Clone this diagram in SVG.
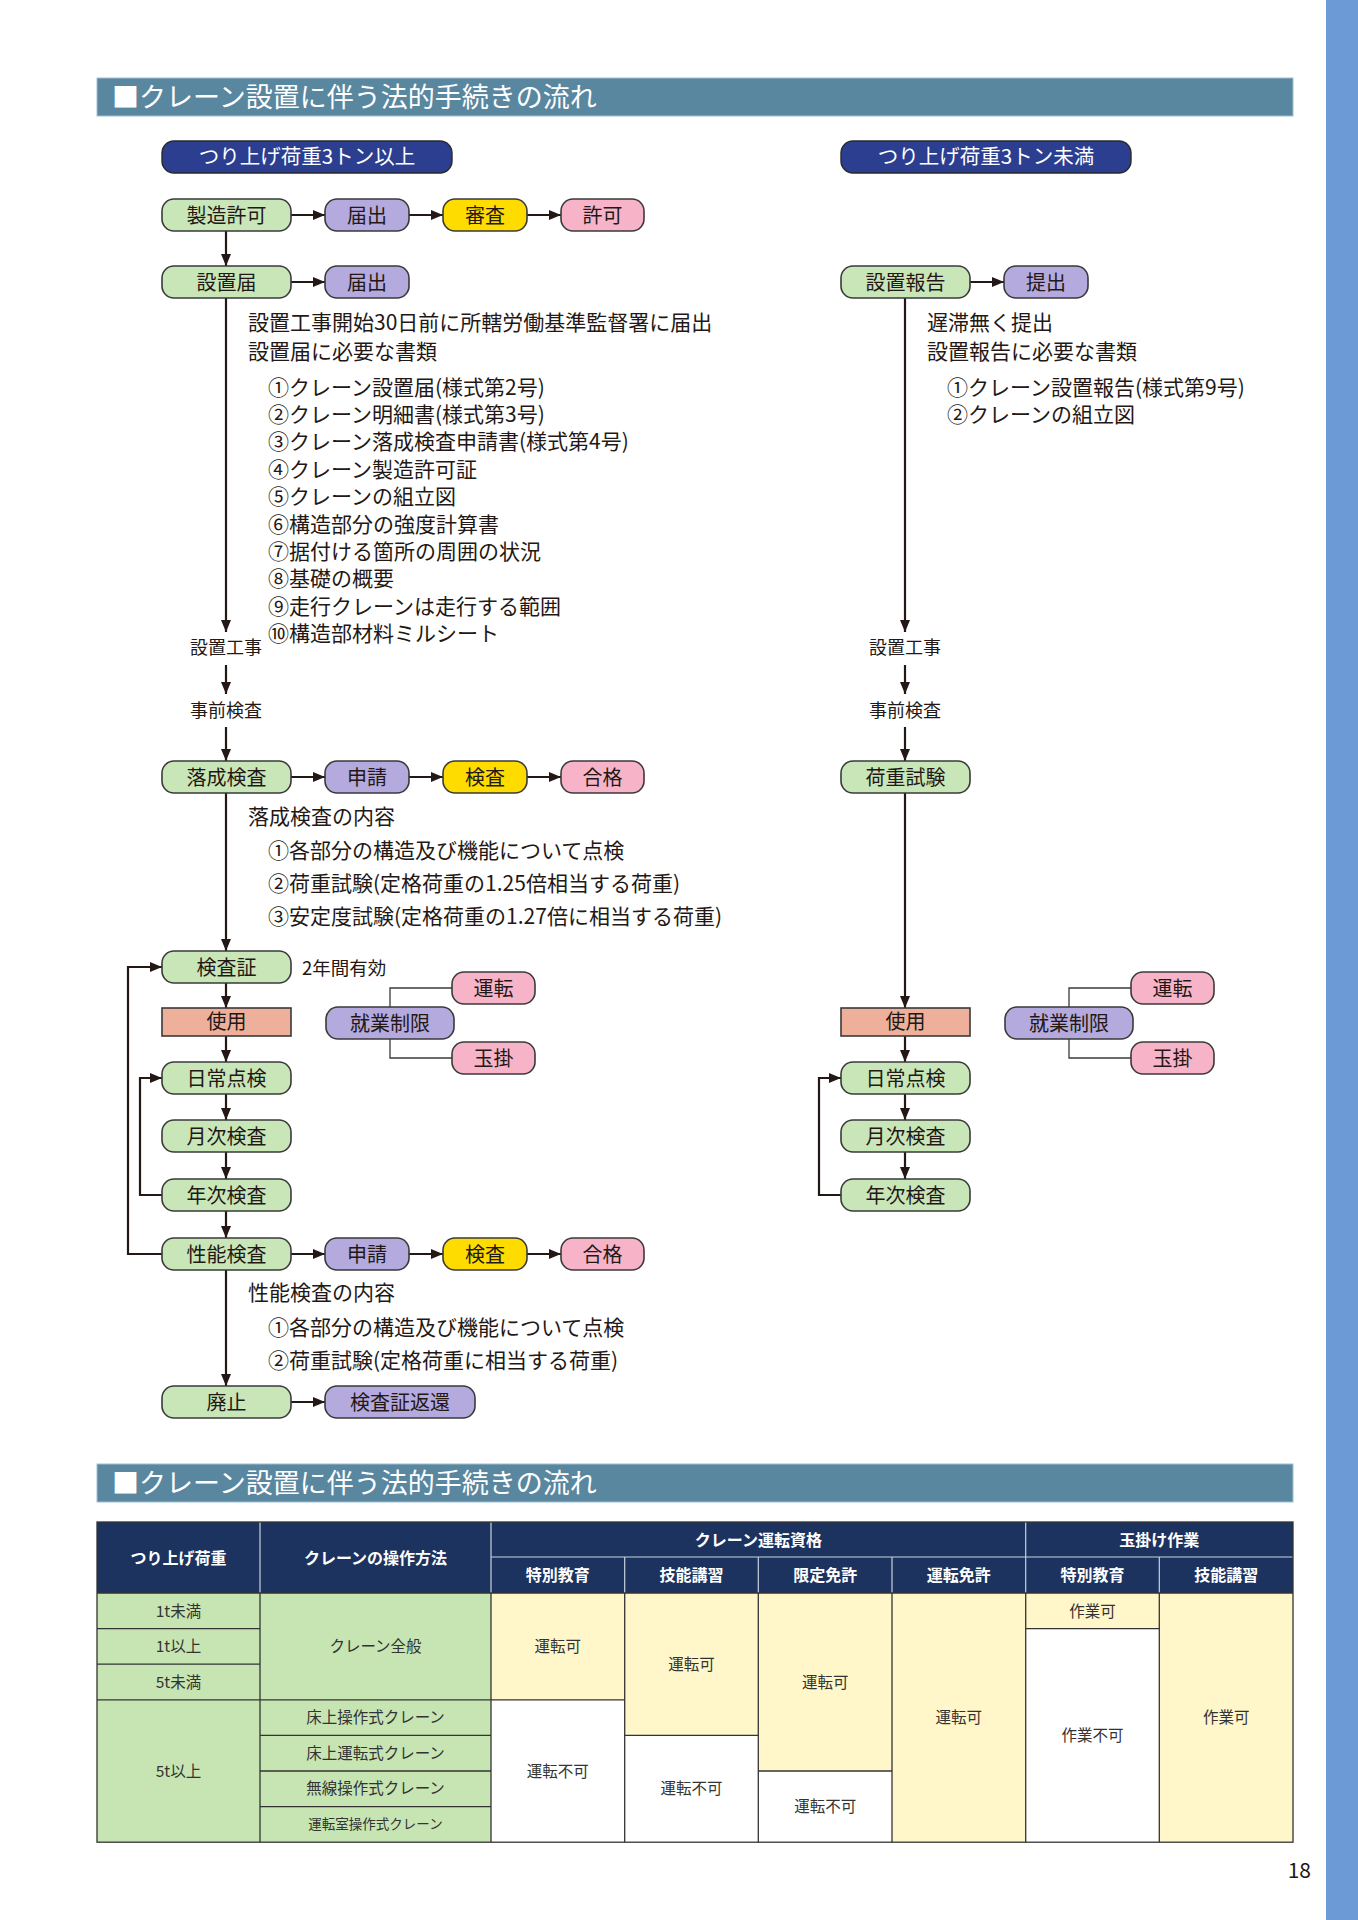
<svg xmlns="http://www.w3.org/2000/svg" width="1358" height="1920" viewBox="0 0 1358 1920">
<style>
text{font-family:'Noto Sans CJK JP','Noto Sans',sans-serif;fill:#231815}
.nt{font-size:20px;text-anchor:middle}
.bt{font-size:21px}
.lb{font-size:18px;text-anchor:middle}
.g{fill:#c9e6b9;stroke:#3a3a3a;stroke-width:1.6}
.p{fill:#b4aadd;stroke:#3a3a3a;stroke-width:1.6}
.y{fill:#ffdc00;stroke:#3a3a3a;stroke-width:1.6}
.k{fill:#f7b4c8;stroke:#3a3a3a;stroke-width:1.6}
.s{fill:#eeb09b;stroke:#3a3a3a;stroke-width:1.6}
.hd{fill:#2b3e90;stroke:#2a2a2a;stroke-width:1.4}
.ht{font-size:20.5px;text-anchor:middle;fill:#ffffff}
.ttl{font-size:27px;fill:#ffffff}
.c{fill:none;stroke:#231815;stroke-width:2.2}
.a{marker-end:url(#ar)}
.thin{fill:none;stroke:#3a3a3a;stroke-width:1.3}
.th{fill:#1c3360}
.tt{font-size:16px;font-weight:bold;fill:#ffffff;text-anchor:middle}
.td{font-size:15.5px;fill:#333333;text-anchor:middle}
.cg{fill:#c6e5b3}
.cy{fill:#fff6c9}
.cw{fill:#ffffff}
.tl{stroke:#333333;stroke-width:1.3;fill:none}
.hl{stroke:#c9d2de;stroke-width:1.2;fill:none}
</style>
<defs>
<marker id="ar" markerUnits="userSpaceOnUse" markerWidth="13" markerHeight="11" refX="12" refY="5" orient="auto">
<path d="M0,0 L12,5 L0,10 Z" fill="#231815"/>
</marker>
</defs>
<rect x="0" y="0" width="1358" height="1920" fill="#ffffff"/>
<rect id="sidebar" x="1326" y="0" width="32" height="1920" fill="#6b9ad6"/>

<g id="title1">
<rect x="97" y="78" width="1196" height="38" fill="#5a87a0" stroke="#9ec0d3" stroke-width="1"/>
<text class="ttl" x="112" y="107">■クレーン設置に伴う法的手続きの流れ</text>
</g>

<g id="connectors">
<line class="c a" x1="291" y1="215" x2="325" y2="215"/>
<line class="c a" x1="409" y1="215" x2="443" y2="215"/>
<line class="c a" x1="527" y1="215" x2="561" y2="215"/>
<line class="c a" x1="226" y1="231" x2="226" y2="266"/>
<line class="c a" x1="291" y1="282" x2="325" y2="282"/>
<line class="c a" x1="226" y1="298" x2="226" y2="632"/>
<line class="c a" x1="226" y1="665" x2="226" y2="694"/>
<line class="c a" x1="226" y1="727" x2="226" y2="761"/>
<line class="c a" x1="291" y1="777" x2="325" y2="777"/>
<line class="c a" x1="409" y1="777" x2="443" y2="777"/>
<line class="c a" x1="527" y1="777" x2="561" y2="777"/>
<line class="c a" x1="226" y1="793" x2="226" y2="951"/>
<line class="c a" x1="226" y1="983" x2="226" y2="1008"/>
<line class="c a" x1="226" y1="1036" x2="226" y2="1062"/>
<line class="c a" x1="226" y1="1094" x2="226" y2="1120"/>
<line class="c a" x1="226" y1="1152" x2="226" y2="1179"/>
<line class="c a" x1="226" y1="1211" x2="226" y2="1238"/>
<line class="c a" x1="291" y1="1254" x2="325" y2="1254"/>
<line class="c a" x1="409" y1="1254" x2="443" y2="1254"/>
<line class="c a" x1="527" y1="1254" x2="561" y2="1254"/>
<line class="c a" x1="226" y1="1270" x2="226" y2="1386"/>
<line class="c a" x1="291" y1="1402" x2="325" y2="1402"/>
<path class="c a" d="M162,1195 H140 V1078 H162"/>
<path class="c a" d="M162,1254 H128 V967 H162"/>
<path class="thin" d="M452,988 H390 V1007"/>
<path class="thin" d="M390,1039 V1058 H452"/>
<line class="c a" x1="970" y1="282" x2="1004" y2="282"/>
<line class="c a" x1="905" y1="298" x2="905" y2="632"/>
<line class="c a" x1="905" y1="665" x2="905" y2="694"/>
<line class="c a" x1="905" y1="727" x2="905" y2="761"/>
<line class="c a" x1="905" y1="793" x2="905" y2="1008"/>
<line class="c a" x1="905" y1="1036" x2="905" y2="1062"/>
<line class="c a" x1="905" y1="1094" x2="905" y2="1120"/>
<line class="c a" x1="905" y1="1152" x2="905" y2="1179"/>
<path class="c a" d="M841,1195 H819 V1078 H841"/>
<path class="thin" d="M1131,988 H1069 V1007"/>
<path class="thin" d="M1069,1039 V1058 H1131"/>
</g>

<g id="hdr-left"><rect class="hd" x="162" y="141" width="290" height="32" rx="12"/><text class="ht" x="307" y="164">つり上げ荷重3トン以上</text></g>
<g id="hdr-right"><rect class="hd" x="841" y="141" width="290" height="32" rx="12"/><text class="ht" x="986" y="164">つり上げ荷重3トン未満</text></g>

<g id="n-seizokyoka"><rect class="g" x="162" y="199" width="129" height="32" rx="12"/><text class="nt" x="226.5" y="222.5">製造許可</text></g>
<g id="n-todokede1"><rect class="p" x="325" y="199" width="84" height="32" rx="12"/><text class="nt" x="367" y="222.5">届出</text></g>
<g id="n-shinsa"><rect class="y" x="443" y="199" width="84" height="32" rx="12"/><text class="nt" x="485" y="222.5">審査</text></g>
<g id="n-kyoka"><rect class="k" x="561" y="199" width="83" height="32" rx="12"/><text class="nt" x="602.5" y="222.5">許可</text></g>

<g id="n-setchitodoke"><rect class="g" x="162" y="266" width="129" height="32" rx="12"/><text class="nt" x="226.5" y="289.5">設置届</text></g>
<g id="n-todokede2"><rect class="p" x="325" y="266" width="84" height="32" rx="12"/><text class="nt" x="367" y="289.5">届出</text></g>

<g id="txt-setchitodoke">
<text class="bt" x="248" y="330">設置工事開始30日前に所轄労働基準監督署に届出</text>
<text class="bt" x="248" y="359">設置届に必要な書類</text>
<text class="bt" x="268" y="395">①クレーン設置届(様式第2号)</text>
<text class="bt" x="268" y="422">②クレーン明細書(様式第3号)</text>
<text class="bt" x="268" y="449">③クレーン落成検査申請書(様式第4号)</text>
<text class="bt" x="268" y="477">④クレーン製造許可証</text>
<text class="bt" x="268" y="504">⑤クレーンの組立図</text>
<text class="bt" x="268" y="532">⑥構造部分の強度計算書</text>
<text class="bt" x="268" y="559">⑦据付ける箇所の周囲の状況</text>
<text class="bt" x="268" y="586">⑧基礎の概要</text>
<text class="bt" x="268" y="614">⑨走行クレーンは走行する範囲</text>
<text class="bt" x="268" y="641">⑩構造部材料ミルシート</text>
</g>

<g id="lbl-koji-l"><text class="lb" x="226" y="654">設置工事</text></g>
<g id="lbl-jizen-l"><text class="lb" x="226" y="717">事前検査</text></g>

<g id="n-rakusei"><rect class="g" x="162" y="761" width="129" height="32" rx="12"/><text class="nt" x="226.5" y="784.5">落成検査</text></g>
<g id="n-shinsei1"><rect class="p" x="325" y="761" width="84" height="32" rx="12"/><text class="nt" x="367" y="784.5">申請</text></g>
<g id="n-kensa1"><rect class="y" x="443" y="761" width="84" height="32" rx="12"/><text class="nt" x="485" y="784.5">検査</text></g>
<g id="n-gokaku1"><rect class="k" x="561" y="761" width="83" height="32" rx="12"/><text class="nt" x="602.5" y="784.5">合格</text></g>

<g id="txt-rakusei">
<text class="bt" x="248" y="824">落成検査の内容</text>
<text class="bt" x="268" y="858">①各部分の構造及び機能について点検</text>
<text class="bt" x="268" y="891">②荷重試験(定格荷重の1.25倍相当する荷重)</text>
<text class="bt" x="268" y="924">③安定度試験(定格荷重の1.27倍に相当する荷重)</text>
</g>

<g id="n-kensasho"><rect class="g" x="162" y="951" width="129" height="32" rx="12"/><text class="nt" x="226.5" y="974.5">検査証</text></g>
<g id="lbl-2nen"><text style="font-size:18.5px" x="302" y="975">2年間有効</text></g>
<g id="n-shiyo-l"><rect class="s" x="162" y="1008" width="129" height="28"/><text class="nt" x="226.5" y="1029">使用</text></g>
<g id="n-shugyo-l"><rect class="p" x="326" y="1007" width="128" height="32" rx="12"/><text class="nt" x="390" y="1030.5">就業制限</text></g>
<g id="n-unten-l"><rect class="k" x="452" y="972" width="83" height="32" rx="12"/><text class="nt" x="493.5" y="995.5">運転</text></g>
<g id="n-tamagake-l"><rect class="k" x="452" y="1042" width="83" height="32" rx="12"/><text class="nt" x="493.5" y="1065.5">玉掛</text></g>

<g id="n-nichijo-l"><rect class="g" x="162" y="1062" width="129" height="32" rx="12"/><text class="nt" x="226.5" y="1085.5">日常点検</text></g>
<g id="n-getsuji-l"><rect class="g" x="162" y="1120" width="129" height="32" rx="12"/><text class="nt" x="226.5" y="1143.5">月次検査</text></g>
<g id="n-nenji-l"><rect class="g" x="162" y="1179" width="129" height="32" rx="12"/><text class="nt" x="226.5" y="1202.5">年次検査</text></g>
<g id="n-seino"><rect class="g" x="162" y="1238" width="129" height="32" rx="12"/><text class="nt" x="226.5" y="1261.5">性能検査</text></g>
<g id="n-shinsei2"><rect class="p" x="325" y="1238" width="84" height="32" rx="12"/><text class="nt" x="367" y="1261.5">申請</text></g>
<g id="n-kensa2"><rect class="y" x="443" y="1238" width="84" height="32" rx="12"/><text class="nt" x="485" y="1261.5">検査</text></g>
<g id="n-gokaku2"><rect class="k" x="561" y="1238" width="83" height="32" rx="12"/><text class="nt" x="602.5" y="1261.5">合格</text></g>

<g id="txt-seino">
<text class="bt" x="248" y="1300">性能検査の内容</text>
<text class="bt" x="268" y="1335">①各部分の構造及び機能について点検</text>
<text class="bt" x="268" y="1368">②荷重試験(定格荷重に相当する荷重)</text>
</g>

<g id="n-haishi"><rect class="g" x="162" y="1386" width="129" height="32" rx="12"/><text class="nt" x="226.5" y="1409.5">廃止</text></g>
<g id="n-henkan"><rect class="p" x="325" y="1386" width="150" height="32" rx="12"/><text class="nt" x="400" y="1409.5">検査証返還</text></g>

<g id="n-setchihokoku"><rect class="g" x="841" y="266" width="129" height="32" rx="12"/><text class="nt" x="905.5" y="289.5">設置報告</text></g>
<g id="n-teishutsu"><rect class="p" x="1004" y="266" width="84" height="32" rx="12"/><text class="nt" x="1046" y="289.5">提出</text></g>
<g id="txt-hokoku">
<text class="bt" x="927" y="330">遅滞無く提出</text>
<text class="bt" x="927" y="359">設置報告に必要な書類</text>
<text class="bt" x="947" y="395">①クレーン設置報告(様式第9号)</text>
<text class="bt" x="947" y="422">②クレーンの組立図</text>
</g>
<g id="lbl-koji-r"><text class="lb" x="905" y="654">設置工事</text></g>
<g id="lbl-jizen-r"><text class="lb" x="905" y="717">事前検査</text></g>
<g id="n-kaju"><rect class="g" x="841" y="761" width="129" height="32" rx="12"/><text class="nt" x="905.5" y="784.5">荷重試験</text></g>
<g id="n-shiyo-r"><rect class="s" x="841" y="1008" width="129" height="28"/><text class="nt" x="905.5" y="1029">使用</text></g>
<g id="n-shugyo-r"><rect class="p" x="1005" y="1007" width="128" height="32" rx="12"/><text class="nt" x="1069" y="1030.5">就業制限</text></g>
<g id="n-unten-r"><rect class="k" x="1131" y="972" width="83" height="32" rx="12"/><text class="nt" x="1172.5" y="995.5">運転</text></g>
<g id="n-tamagake-r"><rect class="k" x="1131" y="1042" width="83" height="32" rx="12"/><text class="nt" x="1172.5" y="1065.5">玉掛</text></g>
<g id="n-nichijo-r"><rect class="g" x="841" y="1062" width="129" height="32" rx="12"/><text class="nt" x="905.5" y="1085.5">日常点検</text></g>
<g id="n-getsuji-r"><rect class="g" x="841" y="1120" width="129" height="32" rx="12"/><text class="nt" x="905.5" y="1143.5">月次検査</text></g>
<g id="n-nenji-r"><rect class="g" x="841" y="1179" width="129" height="32" rx="12"/><text class="nt" x="905.5" y="1202.5">年次検査</text></g>

<g id="title2">
<rect x="97" y="1464" width="1196" height="38" fill="#5a87a0" stroke="#9ec0d3" stroke-width="1"/>
<text class="ttl" x="112" y="1493">■クレーン設置に伴う法的手続きの流れ</text>
</g>

<g id="table">
<rect class="th" x="97" y="1522" width="1196" height="71"/>
<rect class="cg" x="97" y="1593" width="394" height="249"/>
<rect class="cy" x="491" y="1593" width="133.7" height="106.8"/>
<rect class="cw" x="491" y="1699.8" width="133.7" height="142.4"/>
<rect class="cy" x="624.7" y="1593" width="133.6" height="142.4"/>
<rect class="cw" x="624.7" y="1735.4" width="133.6" height="106.8"/>
<rect class="cy" x="758.3" y="1593" width="133.7" height="178"/>
<rect class="cw" x="758.3" y="1771" width="133.7" height="71.2"/>
<rect class="cy" x="892" y="1593" width="133.7" height="249.2"/>
<rect class="cy" x="1025.7" y="1593" width="133.6" height="35.6"/>
<rect class="cw" x="1025.7" y="1628.6" width="133.6" height="213.6"/>
<rect class="cy" x="1159.3" y="1593" width="133.7" height="249.2"/>
<line class="hl" x1="491" y1="1557" x2="1293" y2="1557"/>
<line class="hl" x1="260" y1="1522" x2="260" y2="1593"/>
<line class="hl" x1="491" y1="1522" x2="491" y2="1593"/>
<line class="hl" x1="1025.7" y1="1522" x2="1025.7" y2="1593"/>
<line class="hl" x1="624.7" y1="1557" x2="624.7" y2="1593"/>
<line class="hl" x1="758.3" y1="1557" x2="758.3" y2="1593"/>
<line class="hl" x1="892" y1="1557" x2="892" y2="1593"/>
<line class="hl" x1="1159.3" y1="1557" x2="1159.3" y2="1593"/>
<line class="tl" x1="97" y1="1593" x2="1293" y2="1593"/>
<line class="tl" x1="97" y1="1628.6" x2="260" y2="1628.6"/>
<line class="tl" x1="97" y1="1664.2" x2="260" y2="1664.2"/>
<line class="tl" x1="97" y1="1699.8" x2="624.7" y2="1699.8"/>
<line class="tl" x1="260" y1="1735.4" x2="491" y2="1735.4"/>
<line class="tl" x1="260" y1="1771" x2="491" y2="1771"/>
<line class="tl" x1="260" y1="1806.6" x2="491" y2="1806.6"/>
<line class="tl" x1="624.7" y1="1735.4" x2="758.3" y2="1735.4"/>
<line class="tl" x1="758.3" y1="1771" x2="892" y2="1771"/>
<line class="tl" x1="1025.7" y1="1628.6" x2="1159.3" y2="1628.6"/>
<line class="tl" x1="260" y1="1593" x2="260" y2="1842.2"/>
<line class="tl" x1="491" y1="1593" x2="491" y2="1842.2"/>
<line class="tl" x1="624.7" y1="1593" x2="624.7" y2="1842.2"/>
<line class="tl" x1="758.3" y1="1593" x2="758.3" y2="1842.2"/>
<line class="tl" x1="892" y1="1593" x2="892" y2="1842.2"/>
<line class="tl" x1="1025.7" y1="1593" x2="1025.7" y2="1842.2"/>
<line class="tl" x1="1159.3" y1="1593" x2="1159.3" y2="1842.2"/>
<rect class="tl" x="97" y="1522" width="1196" height="320.2"/>
<text class="tt" x="178.5" y="1563.5">つり上げ荷重</text>
<text class="tt" x="375.5" y="1563.5">クレーンの操作方法</text>
<text class="tt" x="758.3" y="1545.5">クレーン運転資格</text>
<text class="tt" x="1159.3" y="1545.5">玉掛け作業</text>
<text class="tt" x="557.8" y="1581">特別教育</text>
<text class="tt" x="691.5" y="1581">技能講習</text>
<text class="tt" x="825.2" y="1581">限定免許</text>
<text class="tt" x="958.8" y="1581">運転免許</text>
<text class="tt" x="1092.5" y="1581">特別教育</text>
<text class="tt" x="1226.2" y="1581">技能講習</text>
<text class="td" x="178.5" y="1616.5">1t未満</text>
<text class="td" x="178.5" y="1652">1t以上</text>
<text class="td" x="178.5" y="1687.5">5t未満</text>
<text class="td" x="178.5" y="1776.5">5t以上</text>
<text class="td" x="375.5" y="1652">クレーン全般</text>
<text class="td" x="375.5" y="1723">床上操作式クレーン</text>
<text class="td" x="375.5" y="1758.7">床上運転式クレーン</text>
<text class="td" x="375.5" y="1794.3">無線操作式クレーン</text>
<text class="td" x="375.5" y="1829.3" style="font-size:13.5px">運転室操作式クレーン</text>
<text class="td" x="557.8" y="1652">運転可</text>
<text class="td" x="557.8" y="1776.5">運転不可</text>
<text class="td" x="691.5" y="1669.7">運転可</text>
<text class="td" x="691.5" y="1794.3">運転不可</text>
<text class="td" x="825.2" y="1687.5">運転可</text>
<text class="td" x="825.2" y="1812">運転不可</text>
<text class="td" x="958.8" y="1723">運転可</text>
<text class="td" x="1092.5" y="1616.5">作業可</text>
<text class="td" x="1092.5" y="1741">作業不可</text>
<text class="td" x="1226.2" y="1723">作業可</text>
</g>

<g id="pagenum"><text x="1311" y="1878" style="font-size:21px;text-anchor:end">18</text></g>
</svg>
